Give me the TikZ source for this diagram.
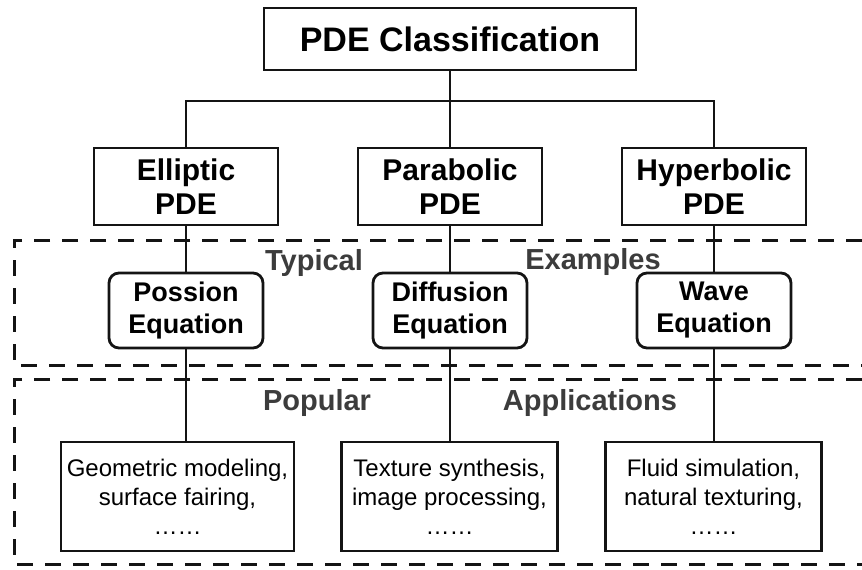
\documentclass[tikz,border=0pt]{standalone}
\usepackage{fontspec}
\setmainfont{Liberation Sans}
\usetikzlibrary{positioning,calc}
\definecolor{ink}{HTML}{141414}
\definecolor{slate}{HTML}{3C3C3C}

\tikzset{
  classbox/.style={draw=ink,line width=2.8pt,inner sep=0pt,align=center,
    font=\fontsize{34}{38}\selectfont\bfseries},
  pdebox/.style={draw=ink,line width=2.8pt,inner sep=0pt,align=center,
    minimum width=184pt,minimum height=77pt,font=\fontsize{30}{34}\selectfont\bfseries},
  eqbox/.style={draw=ink,line width=2.8pt,inner sep=0pt,align=center,rounded corners=10pt,
    minimum width=154pt,minimum height=75pt,font=\fontsize{27}{32}\selectfont\bfseries},
  appbox/.style={draw=ink,line width=2.8pt,inner sep=0pt,align=center,
    minimum width=216pt,minimum height=109pt,font=\fontsize{24}{29}\selectfont},
  band/.style={draw=ink,line width=3pt,dash pattern=on 16pt off 12pt},
  bandlabel/.style={text=slate,font=\fontsize{29}{32}\selectfont\bfseries},
  link/.style={draw=ink,line width=2.8pt}
}

\begin{document}
\begin{tikzpicture}[x=1pt,y=-1pt]
\useasboundingbox[fill=white] (0,0) rectangle (862,570);
% dashed bands
\draw[band] (862,240) -- (14,240) -- (14,365) -- (862,365);
\draw[band] (862,379) -- (14,379) -- (14,564) -- (862,564);
\node[bandlabel] (typ) at (314,263) {Typical};
\node[bandlabel] (exa) at (593,262) {Examples};
\node[bandlabel] (pop) at (317,403) {Popular};
\node[bandlabel] (app) at (590,403) {Applications};
% boxes
\node[classbox,minimum width=372pt,minimum height=62pt] (pde) at (450,39) {PDE Classification};
\node[pdebox] (ell) at (186,186.5) {Elliptic\\PDE};
\node[pdebox] (par) at (450,186.5) {Parabolic\\PDE};
\node[pdebox] (hyp) at (714,186.5) {Hyperbolic\\PDE};
\node[eqbox] (pos) at (186,310.5) {Possion\\Equation};
\node[eqbox] (dif) at (450,310.5) {Diffusion\\Equation};
\node[eqbox] (wav) at (714,310.5) {Wave\\Equation};
\node[appbox,minimum width=233pt] (geo) at (177.5,496.5) {Geometric modeling,\\surface fairing,\\……};
\node[appbox] (tex) at (449.5,496.5) {Texture synthesis,\\image processing,\\……};
\node[appbox] (flu) at (713.5,496.5) {Fluid simulation,\\natural texturing,\\……};
% connectors
\coordinate (bus) at (450,101);
\draw[link] (pde.south) -- (bus);
\draw[link] (ell.north) |- (bus) -| (hyp.north);
\draw[link] (bus) -- (par.north);
\draw[link] (ell.south) -- (pos.north);
\draw[link] (par.south) -- (dif.north);
\draw[link] (hyp.south) -- (wav.north);
\draw[link] (pos.south) -- (pos.south |- geo.north);
\draw[link] (dif.south) -- (dif.south |- tex.north);
\draw[link] (wav.south) -- (wav.south |- flu.north);
\end{tikzpicture}
\end{document}
